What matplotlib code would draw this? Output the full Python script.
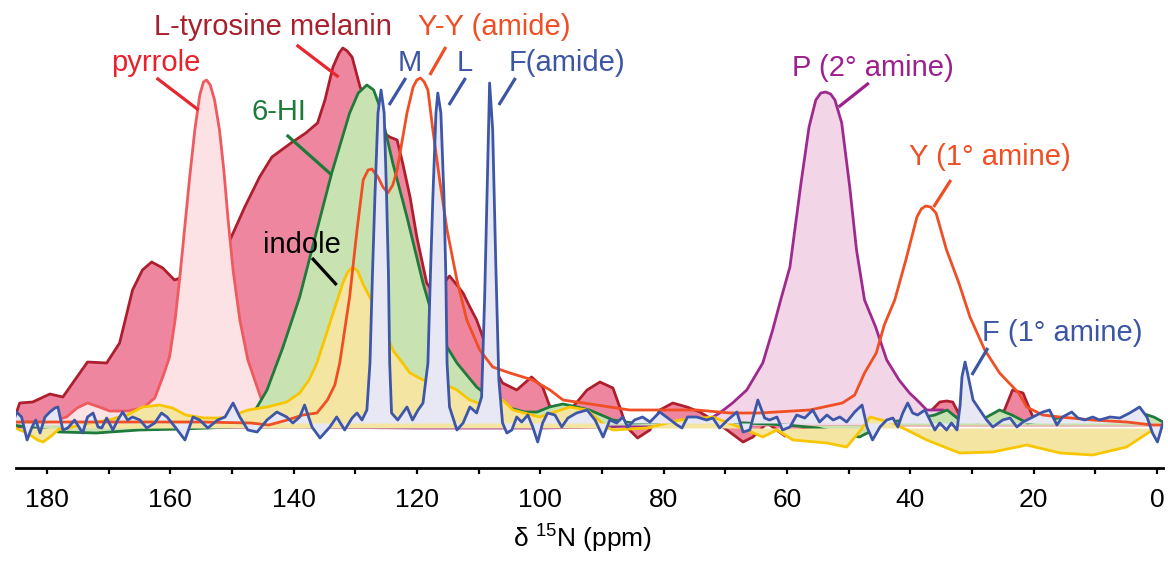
import numpy as np
import matplotlib
matplotlib.use("Agg")
import matplotlib.pyplot as plt

plt.rcParams['font.family'] = ['Liberation Sans', 'DejaVu Sans']
plt.rcParams['mathtext.fontset'] = 'custom'
plt.rcParams['mathtext.rm'] = 'Liberation Sans'
plt.rcParams['mathtext.it'] = 'Liberation Sans:italic'

# 15N CP-MAS spectra: (chemical shift in ppm, intensity in arbitrary units)
melanin = [(185.5, 2), (184.4, 22), (182.3, 23), (179.5, 31), (177.4, 28), (175.8, 42),
           (173.4, 63), (170.3, 62), (168.2, 82), (166.1, 135), (164.5, 155), (163.0, 163),
           (161.2, 157), (159.3, 145), (157.0, 150), (155.0, 160), (153.0, 170), (151.5, 178),
           (150.3, 185), (147.9, 218), (145.5, 248), (143.5, 268), (140.4, 282), (138.0, 292),
           (136.1, 302), (134.9, 325), (133.6, 358), (132.6, 372), (132.0, 377), (131.3, 374),
           (130.5, 368), (129.2, 338), (127.5, 315), (126.0, 295), (124.4, 288), (123.2, 285),
           (122.3, 262), (121.1, 228), (120.0, 188), (118.4, 142), (116.8, 128), (115.5, 143),
           (114.7, 149), (113.5, 140), (112.5, 132), (111.4, 118), (110.3, 105), (109.3, 88),
           (108.2, 65), (106.1, 42), (103.8, 35), (101.4, 48), (99.6, 38), (98.4, 18),
           (96.8, 2), (94.7, 18), (92.4, 35), (90.3, 43), (88.2, 37), (87.1, 18), (86.0, -2),
           (84.2, -13), (82.2, -5), (80.6, 15), (78.5, 22), (76.2, 18), (74.1, 13), (72.0, 5),
           (69.7, -5), (67.1, -17), (65.5, -12), (63.2, 2), (60.3, -11), (57.9, -5), (53.5, 0),
           (48.2, 0), (41.7, 2), (37.3, 10), (35.2, 23), (34.1, 24), (33.1, 23), (32.0, 10),
           (30.3, 3), (27.1, 3), (24.7, 15), (23.4, 35), (21.7, 32), (20.1, 8), (18.2, 2),
           (9.3, 3), (-1.0, 2)]

pyrrole = [(185.5, 3), (180.0, 3), (178.4, 5), (176.8, 8), (175.1, 17), (173.4, 22),
           (171.5, 18), (169.8, 14), (167.0, 14), (164.4, 17), (162.5, 27), (161.2, 48),
           (160.1, 68), (159.2, 105), (158.4, 150), (157.6, 200), (156.8, 250), (156.0, 295),
           (155.2, 330), (154.6, 343), (154.1, 345), (153.5, 340), (152.8, 325), (152.0, 295),
           (151.3, 255), (150.6, 205), (149.8, 155), (148.7, 105), (147.4, 65), (145.9, 38),
           (145.0, 22), (143.8, 10), (142.2, 4), (140.0, 1), (130.0, 0), (-1.0, 0)]

hi6 = [(185.5, 0), (182.0, -3), (178.0, -7), (172.0, -8), (165.0, -5), (158.0, -4),
       (150.0, -2), (147.5, 5), (145.9, 18), (144.3, 35), (141.7, 78), (139.0, 128),
       (136.2, 195), (133.8, 252), (130.9, 312), (129.5, 332), (128.1, 340), (127.0, 335),
       (126.0, 318), (123.9, 262), (121.6, 208), (119.0, 142), (116.8, 95), (113.5, 62),
       (110.3, 38), (107.7, 25), (104.9, 17), (102.5, 13), (100.5, 13), (98.5, 18),
       (96.3, 21), (94.0, 18), (92.0, 15), (88.2, 5), (85.0, 2), (80.0, 3), (70.0, 3),
       (60.0, 0), (55.0, -3), (50.0, -10), (48.2, -12), (46.0, -5), (44.0, 3), (40.0, 5),
       (36.0, 10), (34.0, 15), (32.0, 5), (29.0, 3), (27.0, 10), (25.5, 15), (23.5, 10),
       (21.0, 2), (18.0, 5), (15.0, 8), (12.0, 5), (8.0, 5), (5.0, 5), (2.5, 12),
       (0.5, 8), (-1.0, 3)]

indole = [(185.5, -2), (183.2, -8), (181.5, -15), (180.6, -17), (179.5, -12), (178.0, -4),
          (176.0, -2), (173.0, 2), (170.0, 5), (167.0, 10), (164.5, 18), (161.7, 20),
          (159.6, 17), (157.5, 10), (154.5, 7), (152.0, 7), (149.5, 10), (147.4, 15),
          (144.3, 18), (141.1, 23), (139.0, 32), (137.5, 45), (136.2, 62), (134.1, 102),
          (132.0, 142), (131.2, 153), (130.4, 158), (129.6, 154), (128.8, 142), (126.0, 108),
          (123.9, 75), (121.1, 52), (119.0, 45), (116.8, 45), (113.5, 35), (111.4, 25),
          (108.2, 18), (106.1, 25), (104.4, 15), (100.1, 8), (95.2, 18), (92.4, 15),
          (89.2, -2), (88.2, -5), (82.7, -3), (77.4, 5), (72.0, 8), (66.5, -5), (63.9, -12),
          (61.6, -5), (59.0, -15), (53.5, -18), (50.3, -22), (48.0, -5), (46.5, 8),
          (42.8, 2), (37.3, -15), (32.0, -28), (26.6, -27), (21.1, -20), (15.7, -28),
          (10.4, -30), (4.9, -22), (0.7, -5), (-1.0, -2)]

tyrosine = [(185.5, 3), (175.0, 3), (165.0, 3), (155.0, 3), (147.0, 2), (144.0, 0),
            (141.0, 5), (138.5, 10), (136.2, 12), (134.5, 25), (133.3, 40), (132.5, 62),
            (130.9, 128), (129.7, 195), (128.7, 245), (127.9, 255), (127.3, 256), (126.3, 248),
            (125.5, 238), (124.7, 232), (123.9, 240), (123.2, 255), (121.6, 312), (120.6, 338),
            (120.0, 345), (119.4, 347), (118.8, 343), (118.2, 335), (117.4, 295), (116.3, 245),
            (115.1, 195), (113.5, 145), (111.9, 105), (109.8, 75), (107.7, 58), (104.9, 52),
            (101.2, 45), (98.4, 35), (96.3, 25), (90.8, 20), (85.5, 15), (80.1, 15),
            (74.6, 15), (69.2, 12), (64.4, 12), (56.3, 15), (51.0, 22), (49.0, 30), (47.4, 52),
            (45.5, 72), (44.2, 100), (42.5, 125), (40.7, 165), (38.9, 208), (38.2, 216),
            (37.5, 219), (36.7, 218), (35.8, 212), (34.1, 175), (32.1, 142), (30.3, 108),
            (27.9, 75), (25.5, 52), (22.4, 32), (21.1, 18), (18.5, 10), (15.7, 8), (10.4, 5),
            (4.9, 3), (0.7, 0), (-1.0, 0)]

proline = [(185.5, -2), (175.0, -3), (160.0, -3), (140.0, -2), (120.0, -3), (100.0, -3),
           (90.0, -2), (80.0, 0), (74.1, 0), (70.9, 12), (68.8, 22), (66.5, 35), (63.9, 62),
           (62.3, 95), (61.0, 125), (59.5, 158), (57.7, 242), (56.4, 298), (55.3, 325),
           (54.5, 332), (53.7, 333), (52.9, 331), (52.2, 325), (51.1, 302), (49.8, 238),
           (48.7, 175), (47.4, 125), (45.6, 98), (43.8, 65), (41.8, 45), (40.1, 32),
           (38.9, 25), (37.3, 15), (34.7, 15), (33.1, 8), (29.5, 7), (27.0, 3), (20.0, 2),
           (10.0, 2), (0.0, 3), (-1.0, 3)]

peptide = [(185.5, 2), (184.9, 13), (184.1, 8), (183.2, -15), (182.4, -2), (181.8, 5),
           (181.1, -8), (180.3, 8), (179.5, 13), (178.7, 17), (178.2, 18), (177.4, -5),
           (176.6, -3), (175.5, 5), (174.2, -8), (173.4, 8), (172.5, 12), (171.7, -2),
           (171.1, -3), (170.3, 7), (169.3, -5), (168.5, 5), (167.7, 13), (166.9, 5),
           (166.1, 8), (164.9, 5), (163.8, -3), (162.5, 2), (161.4, 12), (160.5, 8),
           (159.2, -2), (157.6, -15), (156.3, 8), (155.2, 5), (153.9, -3), (152.3, 5),
           (151.1, 8), (149.8, 22), (148.7, 8), (147.4, -5), (145.9, -7), (144.3, 5),
           (142.7, 13), (141.1, 8), (140.1, 2), (139.0, 8), (138.2, 20), (137.0, -2),
           (135.7, -13), (134.1, -2), (133.0, 8), (131.7, -5), (130.5, 7), (129.7, 12),
           (128.9, 5), (128.1, 15), (127.6, 62), (127.2, 150), (126.8, 228), (126.3, 312),
           (125.8, 335), (125.3, 312), (124.9, 228), (124.6, 150), (124.4, 62), (124.1, 12),
           (123.1, 5), (121.6, 18), (120.7, 5), (119.8, 15), (119.0, 22), (118.2, 62),
           (117.8, 150), (117.4, 228), (116.9, 312), (116.6, 332), (116.1, 312), (115.6, 228),
           (115.3, 150), (115.1, 62), (114.7, 18), (113.5, -5), (112.5, 2), (111.4, 18),
           (110.3, 12), (109.5, 28), (109.0, 128), (108.5, 262), (108.2, 342), (107.7, 295),
           (107.2, 162), (106.7, 45), (106.1, 2), (105.4, -8), (104.6, -5), (103.8, 8),
           (103.0, 3), (102.0, 10), (101.2, -2), (100.4, -17), (99.6, 2), (98.8, 12),
           (97.6, 10), (96.5, -2), (95.5, 7), (94.1, 12), (92.4, 15), (91.1, 5), (89.8, -12),
           (88.7, 5), (87.6, 2), (86.6, 8), (85.8, -2), (84.7, 5), (83.4, 8), (82.2, 3),
           (80.6, 13), (79.3, 7), (77.8, 0), (77.0, -3), (76.1, 8), (74.6, 8), (73.0, 5),
           (72.0, 7), (70.9, -3), (69.6, 5), (68.1, 13), (67.1, -7), (66.0, -5), (64.7, 25),
           (63.6, 7), (62.8, 5), (61.6, 8), (60.7, -5), (59.5, -2), (58.4, 10), (57.1, 7),
           (55.8, 15), (54.7, 3), (53.5, 10), (52.5, 5), (51.4, 8), (50.3, 3), (49.0, 13),
           (47.8, 20), (47.0, -2), (46.1, -15), (44.9, -2), (43.8, 5), (42.8, 7), (42.0, -2),
           (41.2, 12), (40.4, 22), (39.6, 12), (38.8, 10), (37.6, 15), (36.8, 5), (36.0, -5),
           (35.2, 2), (34.1, -5), (33.3, 2), (32.4, -5), (31.9, 20), (31.6, 48), (31.1, 63),
           (30.7, 52), (29.8, 25), (28.7, 15), (27.6, 5), (26.6, -2), (25.0, 5), (23.8, 7),
           (22.7, -2), (21.7, 3), (20.1, 8), (18.5, 13), (17.4, 15), (16.2, 0), (15.3, 8),
           (13.8, 13), (12.8, 7), (11.7, 5), (10.4, 8), (9.3, 5), (7.6, 8), (6.0, 7),
           (4.4, 12), (2.8, 18), (1.6, 8), (0.7, -8), (-0.1, -17), (-1.0, 2)]

# axis ticks
major_ticks = [180, 160, 140, 120, 100, 80, 60, 40, 20, 0]
minor_ticks = [170, 150, 130, 110, 90, 70, 50, 30, 10]

# annotations: text, colour, text position (ppm, height), leader line start/end, line colour
labels = [
    ("L-tyrosine melanin", "#A8202D", (143.4, 398), (139.5, 380), (132.7, 348), "#E8262D"),
    ("pyrrole", "#E8212B", (162.4, 362), (162.2, 347), (155.4, 315), "#E8262D"),
    ("Y-Y (amide)", "#F04E23", (107.5, 398), (115.3, 378), (117.9, 350), "#F04E23"),
    ("M", "#3C55A5", (121.1, 362), (121.8, 347), (124.5, 320), "#3C55A5"),
    ("L", "#3C55A5", (112.2, 362), (112.1, 347), (114.8, 320), "#3C55A5"),
    ("F(amide)", "#3C55A5", (95.7, 362), (104.0, 347), (106.7, 320), "#3C55A5"),
    ("6-HI", "#1D7B3A", (142.3, 313), (141.1, 290), (133.8, 250), "#1D7B3A"),
    ("indole", "#000000", (138.6, 180), (137.0, 167), (133.0, 140), "#000000"),
    ("P (2° amine)", "#9E1F8E", (46.0, 357), (51.6, 318), (46.7, 342), "#9E1F8E"),
    ("Y (1° amine)", "#F04E23", (27.0, 268), (36.2, 218), (33.4, 245), "#F04E23"),
    ("F (1° amine)", "#3C55A5", (15.3, 92), (30.0, 50), (27.4, 77), "#3C55A5"),
]

W, H = 1168, 561
fig = plt.figure(figsize=(W / 100, H / 100), dpi=100)
ax = fig.add_axes([16 / W, (H - 468) / H, (1163 - 16) / W, 468 / H])
ax.set_xlim(185, -1)
ax.set_ylim(-43, 425)


def xy(series):
    arr = np.array(series, dtype=float)
    return arr[:, 0], arr[:, 1]


def spectrum(series, line, fill, base, z, lw=2.0):
    x, y = xy(series)
    if fill is not None:
        ax.fill_between(x, y, base, color=fill, lw=0, zorder=z)
    ax.plot(x, y, color=line, lw=lw, zorder=z + 0.1, solid_joinstyle='round')


spectrum(melanin, "#AE1F2E", "#EF86A0", 0, 1)
spectrum(pyrrole, "#EE5A5E", "#FCE2E5", 0, 2)
spectrum(proline, "#9E2A8E", "#F2D5E7", 0, 2.5)
spectrum(hi6, "#1E7B3C", "#C8E2B2", 0, 3)
spectrum(indole, "#F7C600", "#F4E6A2", -3, 4)

px, py = xy(peptide)
ax.fill_between(px, py, 2, color="#E7E8F4", lw=0, zorder=5)
tx, ty = xy(tyrosine)
ax.plot(tx, ty, color="#F04E23", lw=2.0, zorder=6, solid_joinstyle='round')
ax.plot(px, py, color="#3E56A8", lw=2.0, zorder=7, solid_joinstyle='round')

for text, tcol, tpos, l0, l1, lcol in labels:
    ax.text(tpos[0], tpos[1], text, color=tcol, fontsize=21, ha='center', va='center',
            zorder=10)
    ax.plot([l0[0], l1[0]], [l0[1], l1[1]], color=lcol, lw=2.3, zorder=10,
            solid_capstyle='butt')

for side in ("top", "left", "right"):
    ax.spines[side].set_visible(False)
ax.spines["bottom"].set_linewidth(2.0)
ax.spines["bottom"].set_position(('data', -43))
ax.set_yticks([])
ax.set_xticks(major_ticks)
ax.set_xticks(minor_ticks, minor=True)
ax.set_xticklabels([str(t) for t in major_ticks])
ax.tick_params(axis='x', which='both', direction='out', length=4.5, width=1.6,
               labelsize=19, pad=10)
ax.patch.set_alpha(0)

fig.text(583 / W, (H - 548) / H, r"δ $^{15}$N (ppm)", fontsize=19, ha='center',
         va='baseline')

fig.savefig("out.png", dpi=100)
